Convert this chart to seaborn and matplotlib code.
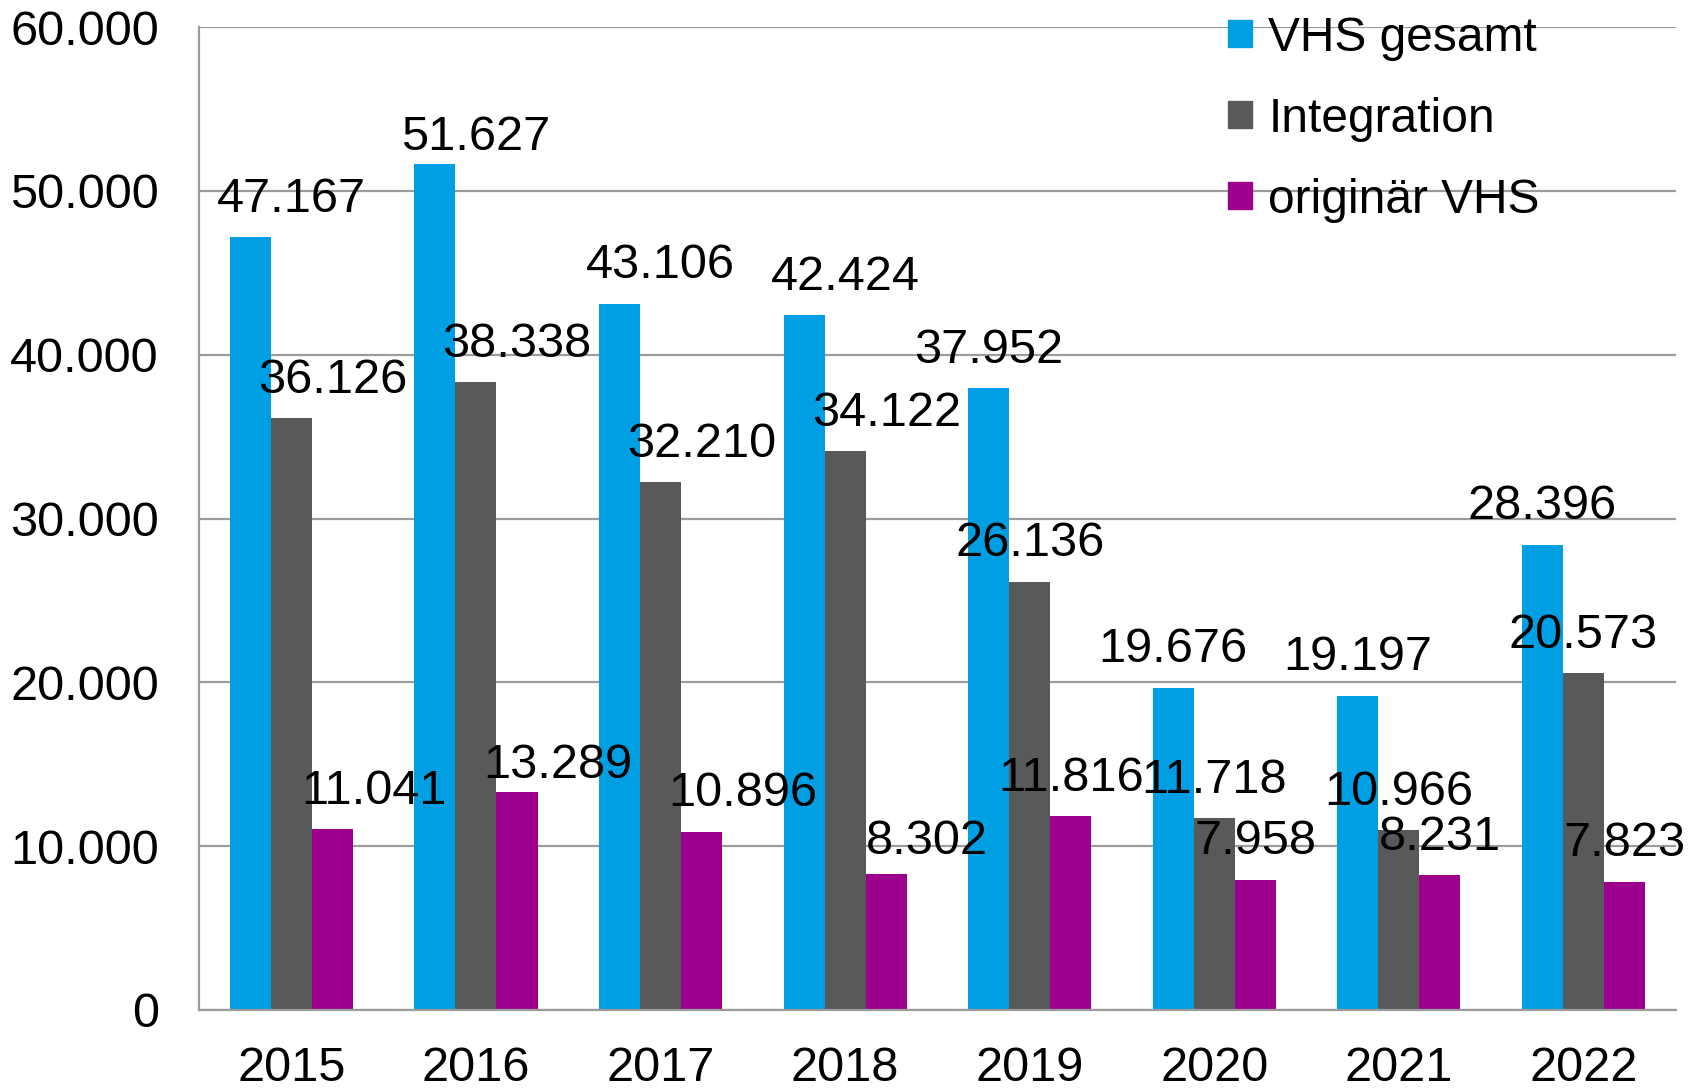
import numpy as np
import pandas as pd
import seaborn as sns
import matplotlib.pyplot as plt
from matplotlib.ticker import FuncFormatter, MultipleLocator, FixedLocator

# data
years = ["2015", "2016", "2017", "2018", "2019", "2020", "2021", "2022"]
vhs_gesamt = [47167, 51627, 43106, 42424, 37952, 19676, 19197, 28396]
integration = [36126, 38338, 32210, 34122, 26136, 11718, 10966, 20573]
originaer = [11041, 13289, 10896, 8302, 11816, 7958, 8231, 7823]
series = ["VHS gesamt", "Integration", "originär VHS"]

# label placement as in the original chart: shift right (in bar widths)
label_shift = [1, 1, 1, 1, 0, 0, 0, 0]
# a few labels sit closer to their bar (series index, year index) -> pixels
label_lift = {(0, 1): 27, (2, 1): 27, (2, 3): 33}

colors = ["#009FE3", "#58595B", "#9E008E"]

df = pd.DataFrame({
    "Jahr": years * 3,
    "Wert": vhs_gesamt + integration + originaer,
    "Reihe": np.repeat(series, len(years)),
})

sns.set_style("white")
plt.rcParams["font.family"] = ["Liberation Sans", "DejaVu Sans"]

fig = plt.figure(figsize=(17.03, 10.88), dpi=100)
ax = fig.add_axes([0.1169, 0.0717, 0.8671, 0.9033])

sns.barplot(data=df, x="Jahr", y="Wert", hue="Reihe", hue_order=series,
            palette=colors, width=0.667, saturation=1, linewidth=0,
            ax=ax, legend=False)

for k, c in enumerate(ax.containers):
    for i, bar in enumerate(c):
        w = bar.get_width()
        x = bar.get_x() + w / 2 + label_shift[i] * w
        h = bar.get_height()
        ax.annotate(f"{int(h):,}".replace(",", "."), (x, h),
                    xytext=(0, label_lift.get((k, i), 38)), textcoords="offset pixels",
                    ha="center", va="center", fontsize=35, color="black")

ax.set_ylim(0, 60000)
ax.set_xlim(-0.5, len(years) - 0.5)
ax.yaxis.set_major_locator(MultipleLocator(10000))
ax.yaxis.set_major_formatter(FuncFormatter(lambda v, p: f"{int(v):,}".replace(",", ".")))
ax.xaxis.set_minor_locator(FixedLocator(np.arange(-0.5, len(years), 1)))

grid_c = "#9C9C9C"
ax.grid(axis="y", color=grid_c, linewidth=1.6)
ax.set_axisbelow(True)
for s in ["top", "right"]:
    ax.spines[s].set_visible(False)
for s in ["left", "bottom"]:
    ax.spines[s].set_color(grid_c)
    ax.spines[s].set_linewidth(1.6)

ax.tick_params(axis="y", length=11, width=1.6, color=grid_c, pad=18,
               labelsize=35, labelcolor="black")
ax.tick_params(axis="x", which="major", length=0, pad=26, labelsize=35,
               labelcolor="black")
ax.tick_params(axis="x", which="minor", length=10, width=1.6, color=grid_c)
ax.set_xlabel("")
ax.set_ylabel("")

handles = [plt.Rectangle((0, 0), 1, 1, color=c) for c in colors]
fig.legend(handles, series, loc="upper left", bbox_to_anchor=(0.704, 1.012),
           frameon=False, fontsize=34.5, handlelength=0.5, handleheight=0.5,
           handletextpad=0.35, labelspacing=0.75, borderpad=0.1,
           labelcolor="black")

plt.savefig("out.png", dpi=100)
